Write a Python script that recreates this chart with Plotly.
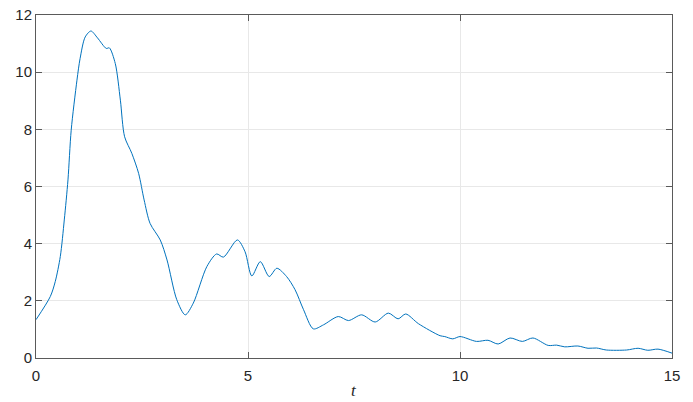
import plotly.graph_objects as go

t = [0.0, 0.337, 0.455, 0.573, 0.667, 0.754, 0.83, 0.966, 1.04, 1.16, 1.296, 1.45, 1.657, 1.73, 1.87,
     1.99, 2.09, 2.26, 2.42, 2.55, 2.69, 2.93, 3.09, 3.32, 3.52, 3.71, 4.03, 4.26, 4.42, 4.75,
     4.93, 5.09, 5.29, 5.50, 5.68, 5.91, 6.11, 6.31, 6.54, 6.78, 7.13, 7.37, 7.68, 8.0, 8.31,
     8.54, 8.72, 9.02, 9.53, 9.64, 9.83, 10.0, 10.39, 10.66, 10.9, 11.18, 11.47, 11.72, 12.08,
     12.28, 12.47, 12.78, 13.02, 13.22, 13.45, 13.93, 14.2, 14.43, 14.67, 15.0]
y = [1.34, 2.15, 2.68, 3.55, 4.83, 6.23, 7.97, 9.72, 10.48, 11.23, 11.44, 11.2, 10.83, 10.85, 10.30,
     9.02, 7.74, 7.16, 6.46, 5.53, 4.71, 4.13, 3.43, 2.04, 1.51, 1.92, 3.2, 3.64, 3.53, 4.13,
     3.72, 2.87, 3.37, 2.85, 3.14, 2.85, 2.39, 1.69, 1.02, 1.16, 1.45, 1.31, 1.51, 1.26, 1.57,
     1.37, 1.54, 1.2, 0.78, 0.75, 0.67, 0.75, 0.58, 0.62, 0.49, 0.70, 0.58, 0.70, 0.44,
     0.45, 0.39, 0.42, 0.34, 0.35, 0.28, 0.28, 0.34, 0.27, 0.31, 0.17]

x_ticks = [0, 5, 10, 15]
y_ticks = [0, 2, 4, 6, 8, 10, 12]
x_label = "t"

fig = go.Figure()
fig.add_trace(go.Scatter(x=t, y=y, mode="lines",
                         line=dict(color="#0072BD", width=1, shape="spline", smoothing=0.8),
                         hoverinfo="skip"))

axis_common = dict(
    showline=True, linecolor="#5a5a5a", linewidth=1, mirror="ticks",
    ticks="inside", ticklen=6, tickcolor="#5a5a5a", tickwidth=1,
    showgrid=True, gridcolor="#e8e8e8", gridwidth=1, zeroline=False, automargin=False,
    tickfont=dict(family="Liberation Sans, Arial, sans-serif", size=15, color="#262626"),
)

fig.update_layout(
    width=693, height=402,
    margin=dict(l=36, r=21, t=15, b=44),
    paper_bgcolor="white", plot_bgcolor="white",
    showlegend=False,
    xaxis=dict(range=[0, 15], tickvals=x_ticks, ticktext=[str(v) for v in x_ticks],
               ticklabelstandoff=4, **axis_common),
    yaxis=dict(range=[0, 12], tickvals=y_ticks, ticktext=[str(v) for v in y_ticks], **axis_common),
)

fig.add_annotation(text=f"<i>{x_label}</i>", xref="paper", yref="paper", x=0.5, y=-0.126,
                   xanchor="center", yanchor="bottom", showarrow=False, borderpad=0,
                   font=dict(family="Liberation Serif, Times New Roman, serif", size=17, color="#262626"))

fig.write_html("out.html", config={"displayModeBar": False, "staticPlot": True},
               post_script="document.body.style.margin='0';document.body.style.overflow='hidden';")
